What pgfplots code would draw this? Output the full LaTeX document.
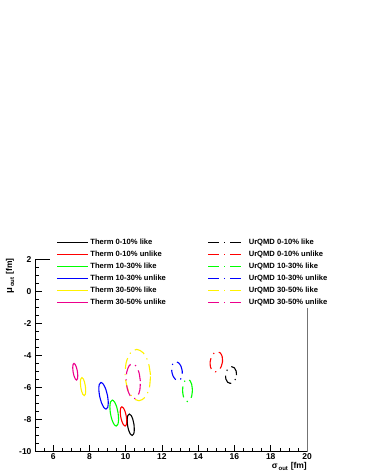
\documentclass[border=0pt]{standalone}
\usepackage{fontspec}
\setmainfont{Liberation Sans}
\usepackage{pgfplots}
\pgfplotsset{compat=1.18}
\tikzset{urq/.style={dash pattern=on 11pt off 5pt on 1.2pt off 5pt}}
% legend samples: solid for Therm, dash-dot for UrQMD
\pgfplotsset{
  thl/.style={legend image code/.code={\draw[color=#1, line width=1.1pt] (0pt,0pt) -- (27pt,0pt); \path (0pt,0pt) -- (30.5pt,0pt);}},
  uql/.style={legend image code/.code={\draw[color=#1, line width=1.1pt, urq] (0pt,0pt) -- (28pt,0pt); \path (0pt,0pt) -- (38.2pt,0pt);}},
}

\begin{document}
\begin{tikzpicture}
\begin{axis}[
    at={(35pt,24.3pt)}, anchor=south west,
    scale only axis,
    width=272pt, height=192.4pt,
    xmin=5, xmax=20, ymin=-10, ymax=2,
    axis x line*=bottom, axis y line*=left,
    axis line style={line width=0.8pt},
    xtick={6,8,...,20}, ytick={-10,-8,...,2},
    minor xtick={5,5.5,...,20}, minor ytick={-10,-9.5,...,2},
    tick align=inside,
    major tick length=7pt, minor tick length=3.5pt,
    tick style={line width=0.6pt, black},
    /pgf/number format/assume math mode=true,
    tick label style={font=\fontsize{8.5}{10}\selectfont\bfseries},
    xticklabel style={yshift=1.3pt},
    xlabel={σ\raisebox{-2pt}{\fontsize{6}{7}\selectfont\,out}\,\,[fm]},
    xlabel style={at={(rel axis cs:1,0)}, anchor=north east, yshift=-10pt, inner sep=0pt,
        font=\fontsize{8.5}{10}\selectfont\bfseries},
    ylabel={{\fontsize{9.5}{10}\selectfont μ}\raisebox{-2pt}{\fontsize{6}{7}\selectfont\,out}\,\,[fm]},
    ylabel style={at={(rel axis cs:-0.092,1.005)}, anchor=east, inner sep=0pt,
        font=\fontsize{8.5}{10}\selectfont\bfseries},
    clip=false,
    legend columns=2,
    legend cell align=left,
    legend style={draw=none, fill=white, at={(axis cs:6.2,3.39)}, anchor=north west,
        inner sep=0pt, outer sep=0pt, row sep=1pt,
        font=\fontsize{7.6}{8}\selectfont\bfseries,
        /tikz/every even column/.append style={column sep=39.5pt}},
]
% Therm 0-10% like
\addplot[black, line width=1.1pt, smooth, thl=black] coordinates {
(10.46,-8.32) (10.396,-7.985) (10.301,-7.74) (10.20,-7.65) (10.121,-7.74) (10.084,-7.985)
(10.10,-8.32) (10.164,-8.655) (10.259,-8.90) (10.36,-8.99) (10.439,-8.90) (10.476,-8.655) (10.46,-8.32)};
\addlegendentry{Therm 0-10\% like}
% UrQMD 0-10% like
\addplot[black, line width=1.1pt, smooth, urq, uql=black] coordinates {
(16.11,-5.22) (16.09,-4.96) (15.995,-4.77) (15.85,-4.70) (15.695,-4.77) (15.57,-4.96)
(15.51,-5.22) (15.53,-5.48) (15.625,-5.67) (15.77,-5.74) (15.925,-5.67) (16.05,-5.48) (16.11,-5.22)};
\addlegendentry{UrQMD 0-10\% like}
% Therm 0-10% unlike
\addplot[red, line width=1.1pt, smooth, thl=red] coordinates {
(10.036,-7.80) (9.97,-7.50) (9.88,-7.28) (9.79,-7.20) (9.724,-7.28) (9.70,-7.50)
(9.724,-7.80) (9.79,-8.10) (9.88,-8.32) (9.97,-8.40) (10.036,-8.32) (10.06,-8.10) (10.036,-7.80)};
\addlegendentry{Therm 0-10\% unlike}
% UrQMD 0-10% unlike
\addplot[red, line width=1.1pt, smooth, urq, uql=red] coordinates {
(15.34,-4.39) (15.324,-4.075) (15.222,-3.844) (15.06,-3.76) (14.882,-3.844) (14.736,-4.075)
(14.66,-4.39) (14.676,-4.705) (14.778,-4.936) (14.94,-5.02) (15.118,-4.936) (15.264,-4.705) (15.34,-4.39)};
\addlegendentry{UrQMD 0-10\% unlike}
% Therm 10-30% like
\addplot[green, line width=1.1pt, smooth, thl=green] coordinates {
(9.583,-7.59) (9.499,-7.185) (9.382,-6.889) (9.26,-6.78) (9.168,-6.889) (9.131,-7.185)
(9.157,-7.59) (9.241,-7.995) (9.358,-8.291) (9.48,-8.40) (9.572,-8.291) (9.609,-7.995) (9.583,-7.59)};
\addlegendentry{Therm 10-30\% like}
% UrQMD 10-30% like
\addplot[green, line width=1.1pt, smooth, urq, uql=green] coordinates {
(13.68,-6.17) (13.644,-5.82) (13.545,-5.564) (13.41,-5.47) (13.275,-5.564) (13.176,-5.82)
(13.14,-6.17) (13.176,-6.52) (13.275,-6.776) (13.41,-6.87) (13.545,-6.776) (13.644,-6.52) (13.68,-6.17)};
\addlegendentry{UrQMD 10-30\% like}
% Therm 10-30% unlike
\addplot[blue, line width=1.1pt, smooth, thl=blue] coordinates {
(9.00,-6.51) (8.901,-6.095) (8.769,-5.791) (8.64,-5.68) (8.549,-5.791) (8.519,-6.095)
(8.56,-6.51) (8.659,-6.925) (8.791,-7.229) (8.92,-7.34) (9.011,-7.229) (9.041,-6.925) (9.00,-6.51)};
\addlegendentry{Therm 10-30\% unlike}
% UrQMD 10-30% unlike
\addplot[blue, line width=1.1pt, smooth, urq, uql=blue] coordinates {
(13.12,-4.97) (13.051,-4.675) (12.923,-4.459) (12.77,-4.38) (12.633,-4.459) (12.549,-4.675)
(12.54,-4.97) (12.609,-5.265) (12.737,-5.481) (12.89,-5.56) (13.027,-5.481) (13.111,-5.265) (13.12,-4.97)};
\addlegendentry{UrQMD 10-30\% unlike}
% Therm 30-50% like
\addplot[yellow, line width=1.1pt, smooth, thl=yellow] coordinates {
(7.78,-5.94) (7.73,-5.66) (7.659,-5.455) (7.585,-5.38) (7.529,-5.455) (7.504,-5.66)
(7.52,-5.94) (7.57,-6.22) (7.641,-6.425) (7.715,-6.50) (7.771,-6.425) (7.796,-6.22) (7.78,-5.94)};
\addlegendentry{Therm 30-50\% like}
% UrQMD 30-50% like
\addplot[yellow, line width=1.1pt, smooth, urq, uql=yellow] coordinates {
(11.37,-5.22) (11.246,-4.42) (10.968,-3.834) (10.61,-3.62) (10.268,-3.834) (10.034,-4.42)
(9.97,-5.22) (10.094,-6.02) (10.372,-6.606) (10.73,-6.82) (11.072,-6.606) (11.306,-6.02) (11.37,-5.22)};
\addlegendentry{UrQMD 30-50\% like}
% Therm 30-50% unlike
\addplot[magenta, line width=1.1pt, smooth, thl=magenta] coordinates {
(7.34,-5.01) (7.289,-4.75) (7.219,-4.56) (7.15,-4.49) (7.099,-4.56) (7.081,-4.75)
(7.10,-5.01) (7.151,-5.27) (7.221,-5.46) (7.29,-5.53) (7.341,-5.46) (7.359,-5.27) (7.34,-5.01)};
\addlegendentry{Therm 30-50\% unlike}
% UrQMD 30-50% unlike
\addplot[magenta, line width=1.1pt, smooth, urq, uql=magenta] coordinates {
(10.81,-5.6) (10.733,-5.055) (10.572,-4.656) (10.37,-4.51) (10.182,-4.656) (10.057,-5.055)
(10.03,-5.6) (10.107,-6.145) (10.268,-6.544) (10.47,-6.69) (10.658,-6.544) (10.783,-6.145) (10.81,-5.6)};
\addlegendentry{UrQMD 30-50\% unlike}
% frame parts not hidden by the legend box
\draw[line width=0.8pt] (axis cs:5,2) -- (axis cs:5.83,2);
\draw[line width=0.9pt, black!55] (axis cs:20,-10) -- (axis cs:20,-1.04);
\end{axis}
\pgfresetboundingbox
\useasboundingbox (0,0) rectangle (368pt,476pt);
\end{tikzpicture}
\end{document}
